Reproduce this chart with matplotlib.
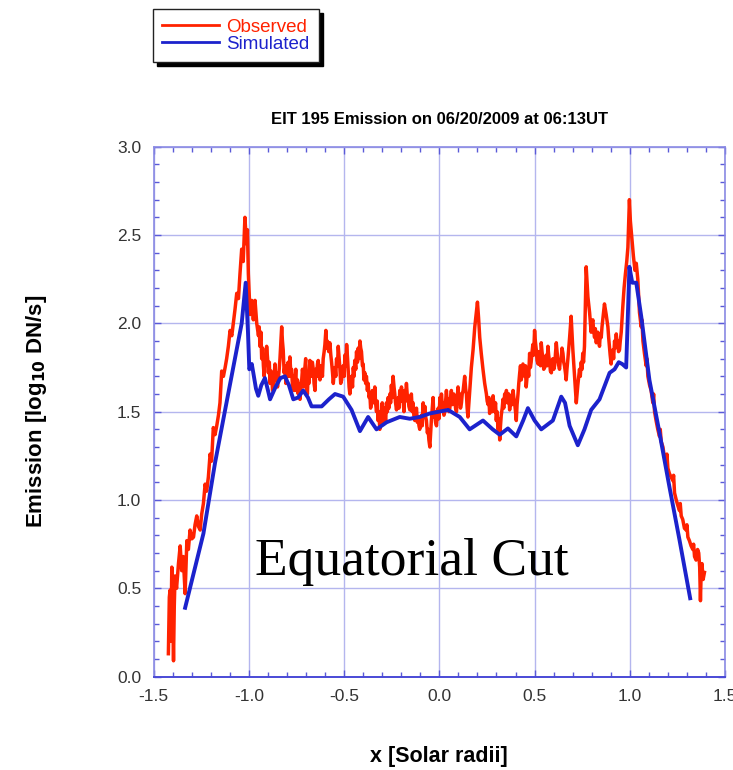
import numpy as np
import matplotlib
matplotlib.use('Agg')
from matplotlib import pyplot as plt
from matplotlib.ticker import MultipleLocator

# Observed EIT 195 profile along the equator (x in solar radii, log10 DN/s)
obs_x = [-1.423, -1.418, -1.414, -1.410, -1.405, -1.400, -1.396, -1.392, -1.388, -1.380,
         -1.370, -1.361, -1.353, -1.345, -1.335, -1.326, -1.318, -1.309, -1.300, -1.291,
         -1.283, -1.274, -1.265, -1.256, -1.248, -1.239, -1.230, -1.222, -1.213, -1.204,
         -1.196, -1.187, -1.178, -1.169, -1.160, -1.152, -1.143, -1.134, -1.125, -1.117,
         -1.108, -1.099, -1.090, -1.082, -1.073, -1.064, -1.055, -1.047, -1.038, -1.030,
         -1.021, -1.013, -1.008, -1.003, -0.994, -0.985, -0.977, -0.968, -0.959, -0.950,
         -0.946, -0.942, -0.937, -0.933, -0.928, -0.924, -0.920, -0.916, -0.911, -0.907,
         -0.902, -0.898, -0.893, -0.889, -0.884, -0.880, -0.876, -0.872, -0.867, -0.863,
         -0.859, -0.855, -0.850, -0.846, -0.841, -0.837, -0.832, -0.828, -0.824, -0.820,
         -0.815, -0.811, -0.806, -0.802, -0.798, -0.794, -0.789, -0.785, -0.780, -0.776,
         -0.771, -0.767, -0.763, -0.758, -0.754, -0.750, -0.745, -0.741, -0.737, -0.732,
         -0.728, -0.724, -0.719, -0.715, -0.711, -0.706, -0.702, -0.698, -0.693, -0.689,
         -0.685, -0.680, -0.676, -0.671, -0.667, -0.662, -0.658, -0.653, -0.649, -0.645,
         -0.640, -0.636, -0.632, -0.627, -0.623, -0.618, -0.614, -0.610, -0.605, -0.601,
         -0.598, -0.596, -0.592, -0.588, -0.581, -0.575, -0.570, -0.566, -0.561, -0.557,
         -0.552, -0.548, -0.544, -0.540, -0.535, -0.531, -0.526, -0.522, -0.518, -0.513,
         -0.509, -0.505, -0.500, -0.496, -0.491, -0.487, -0.482, -0.478, -0.474, -0.470,
         -0.465, -0.461, -0.456, -0.452, -0.448, -0.444, -0.439, -0.435, -0.430, -0.426,
         -0.422, -0.417, -0.413, -0.409, -0.404, -0.400, -0.396, -0.391, -0.387, -0.383,
         -0.378, -0.374, -0.369, -0.365, -0.361, -0.356, -0.352, -0.348, -0.343, -0.339,
         -0.335, -0.330, -0.326, -0.322, -0.317, -0.313, -0.308, -0.304, -0.300, -0.295,
         -0.291, -0.286, -0.282, -0.278, -0.273, -0.269, -0.265, -0.260, -0.256, -0.252,
         -0.247, -0.243, -0.238, -0.234, -0.230, -0.225, -0.221, -0.216, -0.212, -0.208,
         -0.203, -0.199, -0.195, -0.190, -0.186, -0.182, -0.177, -0.173, -0.169, -0.164,
         -0.160, -0.155, -0.151, -0.147, -0.142, -0.138, -0.134, -0.129, -0.125, -0.120,
         -0.116, -0.112, -0.107, -0.103, -0.099, -0.094, -0.090, -0.085, -0.081, -0.076,
         -0.072, -0.068, -0.063, -0.059, -0.055, -0.050, -0.046, -0.042, -0.037, -0.033,
         -0.029, -0.024, -0.020, -0.015, -0.011, -0.006, -0.002, 0.003, 0.007, 0.011,
         0.016, 0.020, 0.024, 0.029, 0.033, 0.037, 0.042, 0.046, 0.050, 0.055,
         0.059, 0.063, 0.068, 0.072, 0.076, 0.081, 0.085, 0.090, 0.094, 0.098,
         0.103, 0.107, 0.111, 0.116, 0.120, 0.125, 0.129, 0.133, 0.138, 0.142,
         0.146, 0.150, 0.155, 0.159, 0.164, 0.168, 0.177, 0.186, 0.194, 0.200,
         0.206, 0.212, 0.220, 0.229, 0.238, 0.247, 0.251, 0.256, 0.260, 0.264,
         0.268, 0.273, 0.277, 0.282, 0.286, 0.290, 0.295, 0.299, 0.303, 0.308,
         0.312, 0.317, 0.321, 0.325, 0.330, 0.334, 0.338, 0.343, 0.347, 0.352,
         0.356, 0.360, 0.365, 0.369, 0.373, 0.378, 0.382, 0.387, 0.391, 0.395,
         0.400, 0.404, 0.408, 0.413, 0.417, 0.422, 0.426, 0.430, 0.435, 0.439,
         0.443, 0.448, 0.452, 0.456, 0.461, 0.465, 0.469, 0.474, 0.478, 0.482,
         0.487, 0.491, 0.495, 0.500, 0.504, 0.509, 0.513, 0.518, 0.522, 0.526,
         0.531, 0.535, 0.539, 0.544, 0.548, 0.553, 0.557, 0.561, 0.566, 0.570,
         0.574, 0.579, 0.583, 0.588, 0.592, 0.596, 0.601, 0.605, 0.609, 0.614,
         0.618, 0.622, 0.627, 0.631, 0.635, 0.640, 0.644, 0.649, 0.653, 0.657,
         0.662, 0.666, 0.670, 0.675, 0.684, 0.692, 0.701, 0.710, 0.719, 0.727,
         0.736, 0.740, 0.745, 0.749, 0.753, 0.757, 0.762, 0.771, 0.780, 0.789,
         0.797, 0.801, 0.806, 0.810, 0.815, 0.819, 0.824, 0.828, 0.832, 0.837,
         0.841, 0.845, 0.850, 0.854, 0.858, 0.867, 0.876, 0.885, 0.889, 0.893,
         0.897, 0.902, 0.906, 0.911, 0.915, 0.920, 0.924, 0.929, 0.933, 0.937,
         0.941, 0.946, 0.950, 0.955, 0.963, 0.970, 0.977, 0.984, 0.990, 0.998,
         1.003, 1.007, 1.013, 1.019, 1.027, 1.034, 1.042, 1.051, 1.060, 1.064,
         1.069, 1.077, 1.086, 1.090, 1.095, 1.104, 1.112, 1.121, 1.125, 1.130,
         1.138, 1.147, 1.156, 1.160, 1.165, 1.174, 1.182, 1.191, 1.195, 1.200,
         1.208, 1.217, 1.226, 1.230, 1.235, 1.244, 1.252, 1.261, 1.265, 1.270,
         1.278, 1.287, 1.296, 1.300, 1.305, 1.313, 1.322, 1.331, 1.335, 1.340,
         1.348, 1.356, 1.362, 1.367, 1.371, 1.375, 1.379, 1.385, 1.392]
obs_y = [0.13, 0.45, 0.49, 0.20, 0.62, 0.35, 0.09, 0.40, 0.57, 0.50,
         0.64, 0.74, 0.60, 0.68, 0.47, 0.77, 0.72, 0.83, 0.78, 0.79,
         0.86, 0.91, 0.85, 0.83, 0.92, 0.98, 1.09, 1.05, 1.13, 1.26,
         1.22, 1.41, 1.37, 1.42, 1.48, 1.55, 1.73, 1.70, 1.75, 1.80,
         1.87, 1.96, 1.93, 2.00, 2.08, 2.17, 2.14, 2.28, 2.42, 2.35,
         2.60, 2.45, 2.53, 2.28, 2.05, 2.13, 2.02, 2.13, 2.00, 1.93,
         1.98, 1.87, 1.95, 1.80, 1.86, 1.76, 1.70, 1.82, 1.78, 1.87,
         1.80, 1.72, 1.78, 1.66, 1.73, 1.70, 1.62, 1.65, 1.72, 1.77,
         1.68, 1.72, 1.64, 1.68, 1.74, 1.80, 1.90, 1.98, 1.90, 1.85,
         1.72, 1.76, 1.66, 1.70, 1.76, 1.78, 1.70, 1.81, 1.72, 1.74,
         1.64, 1.70, 1.62, 1.68, 1.74, 1.62, 1.68, 1.60, 1.66, 1.57,
         1.62, 1.66, 1.74, 1.70, 1.64, 1.75, 1.80, 1.65, 1.60, 1.72,
         1.66, 1.79, 1.72, 1.70, 1.78, 1.74, 1.66, 1.62, 1.74, 1.70,
         1.77, 1.79, 1.72, 1.68, 1.76, 1.75, 1.70, 1.80, 1.84, 1.88,
         1.93, 1.96, 1.86, 1.90, 1.84, 1.89, 1.82, 1.78, 1.72, 1.66,
         1.72, 1.75, 1.70, 1.80, 1.76, 1.87, 1.80, 1.74, 1.66, 1.68,
         1.74, 1.76, 1.70, 1.82, 1.76, 1.88, 1.80, 1.72, 1.64, 1.60,
         1.66, 1.70, 1.64, 1.75, 1.70, 1.79, 1.74, 1.84, 1.78, 1.86,
         1.80, 1.90, 1.86, 1.84, 1.76, 1.77, 1.68, 1.72, 1.66, 1.70,
         1.62, 1.66, 1.58, 1.60, 1.52, 1.55, 1.62, 1.60, 1.55, 1.64,
         1.55, 1.50, 1.56, 1.45, 1.50, 1.40, 1.46, 1.50, 1.55, 1.44,
         1.52, 1.49, 1.44, 1.55, 1.50, 1.58, 1.52, 1.60, 1.55, 1.65,
         1.58, 1.70, 1.64, 1.60, 1.55, 1.51, 1.56, 1.58, 1.52, 1.62,
         1.56, 1.64, 1.58, 1.56, 1.50, 1.62, 1.56, 1.66, 1.60, 1.58,
         1.53, 1.51, 1.56, 1.60, 1.50, 1.55, 1.48, 1.45, 1.50, 1.52,
         1.44, 1.47, 1.42, 1.40, 1.44, 1.48, 1.42, 1.55, 1.48, 1.53,
         1.47, 1.45, 1.38, 1.40, 1.34, 1.30, 1.38, 1.45, 1.52, 1.58,
         1.47, 1.50, 1.44, 1.42, 1.48, 1.52, 1.46, 1.58, 1.52, 1.60,
         1.53, 1.55, 1.48, 1.50, 1.56, 1.62, 1.54, 1.57, 1.50, 1.52,
         1.58, 1.62, 1.54, 1.55, 1.60, 1.57, 1.52, 1.50, 1.58, 1.64,
         1.56, 1.60, 1.52, 1.55, 1.60, 1.62, 1.66, 1.70, 1.63, 1.60,
         1.52, 1.47, 1.55, 1.62, 1.70, 1.75, 1.85, 1.98, 2.06, 2.12,
         2.03, 1.92, 1.83, 1.74, 1.66, 1.60, 1.56, 1.54, 1.58, 1.49,
         1.55, 1.55, 1.50, 1.59, 1.54, 1.50, 1.55, 1.45, 1.50, 1.40,
         1.46, 1.34, 1.42, 1.48, 1.52, 1.57, 1.52, 1.60, 1.55, 1.62,
         1.58, 1.55, 1.60, 1.51, 1.56, 1.58, 1.54, 1.62, 1.58, 1.55,
         1.50, 1.45, 1.54, 1.60, 1.66, 1.72, 1.76, 1.68, 1.72, 1.77,
         1.73, 1.70, 1.76, 1.64, 1.70, 1.75, 1.70, 1.83, 1.75, 1.78,
         1.84, 1.88, 1.82, 1.96, 1.90, 1.85, 1.79, 1.77, 1.84, 1.82,
         1.76, 1.89, 1.84, 1.80, 1.74, 1.75, 1.80, 1.82, 1.76, 1.87,
         1.82, 1.78, 1.73, 1.72, 1.77, 1.80, 1.74, 1.76, 1.82, 1.89,
         1.84, 1.80, 1.76, 1.74, 1.79, 1.80, 1.86, 1.83, 1.78, 1.76,
         1.72, 1.68, 1.74, 1.80, 1.92, 2.04, 1.85, 1.70, 1.55, 1.65,
         1.74, 1.70, 1.78, 1.74, 1.83, 1.78, 1.87, 2.32, 2.15, 2.06,
         1.95, 2.00, 2.02, 1.96, 1.92, 1.97, 1.89, 1.93, 1.95, 1.90,
         1.87, 1.94, 1.92, 1.98, 2.02, 2.11, 2.05, 1.98, 1.92, 1.87,
         1.82, 1.77, 1.83, 1.85, 1.80, 1.90, 1.86, 1.94, 1.88, 1.90,
         1.84, 1.85, 1.90, 1.95, 2.09, 2.20, 2.28, 2.35, 2.43, 2.70,
         2.58, 2.53, 2.45, 2.38, 2.30, 2.34, 2.25, 2.06, 1.98, 2.02,
         1.90, 1.83, 1.76, 1.80, 1.70, 1.65, 1.62, 1.55, 1.60, 1.50,
         1.45, 1.40, 1.36, 1.40, 1.33, 1.30, 1.24, 1.23, 1.26, 1.18,
         1.15, 1.13, 1.11, 1.14, 1.04, 1.00, 0.97, 0.94, 0.98, 0.91,
         0.89, 0.84, 0.83, 0.86, 0.79, 0.77, 0.74, 0.72, 0.75, 0.68,
         0.66, 0.72, 0.70, 0.62, 0.43, 0.60, 0.64, 0.55, 0.59]

# Simulated profile
sim_x = [-1.335, -1.239, -1.178, -1.125, -1.038, -1.017, -1.005, -0.998, -0.985, -0.977,
         -0.963, -0.951, -0.935, -0.916, -0.900, -0.889, -0.860, -0.835, -0.811, -0.790,
         -0.767, -0.742, -0.715, -0.690, -0.671, -0.618, -0.580, -0.548, -0.505, -0.461,
         -0.417, -0.374, -0.330, -0.277, -0.208, -0.155, -0.103, -0.050, 0.046, 0.107,
         0.159, 0.229, 0.280, 0.317, 0.360, 0.404, 0.440, 0.465, 0.500, 0.535,
         0.596, 0.640, 0.660, 0.684, 0.727, 0.762, 0.797, 0.841, 0.894, 0.920,
         0.942, 0.960, 0.981, 0.998, 1.013, 1.034, 1.060, 1.103, 1.156, 1.208,
         1.261, 1.317]
sim_y = [0.39, 0.81, 1.21, 1.51, 2.00, 2.23, 1.95, 1.74, 1.77, 1.72,
         1.63, 1.59, 1.65, 1.69, 1.62, 1.57, 1.64, 1.69, 1.70, 1.65,
         1.57, 1.58, 1.62, 1.58, 1.53, 1.53, 1.57, 1.60, 1.585, 1.51,
         1.39, 1.47, 1.40, 1.44, 1.47, 1.46, 1.47, 1.49, 1.51, 1.47,
         1.40, 1.45, 1.40, 1.37, 1.405, 1.36, 1.45, 1.52, 1.45, 1.40,
         1.45, 1.585, 1.55, 1.42, 1.31, 1.40, 1.51, 1.57, 1.72, 1.74,
         1.78, 1.77, 1.75, 2.32, 2.23, 2.23, 2.04, 1.68, 1.38, 1.075,
         0.774, 0.444]

x_ticks = [-1.5, -1.0, -0.5, 0.0, 0.5, 1.0, 1.5]
y_ticks = [0.0, 0.5, 1.0, 1.5, 2.0, 2.5, 3.0]

sans = ['Liberation Sans', 'DejaVu Sans']
grid_col = '#b4b6ee'
spine_col = '#8a8ae4'

fig = plt.figure(figsize=(7.33, 7.70), dpi=100)
ax = fig.add_axes([0.2097, 0.1212, 0.7794, 0.6883])

l_obs, = ax.plot(obs_x, obs_y, color='#ff2200', lw=2.5, zorder=3, label='Observed')
l_sim, = ax.plot(sim_x, sim_y, color='#1c22cc', lw=2.8, zorder=4, label='Simulated',
                 solid_joinstyle='round')

ax.set_xlim(-1.5, 1.5)
ax.set_ylim(0.0, 3.0)
ax.set_xticks(x_ticks)
ax.set_yticks(y_ticks)
ax.set_xticklabels(['%.1f' % v for v in x_ticks])
ax.set_yticklabels(['%.1f' % v for v in y_ticks])
ax.xaxis.set_minor_locator(MultipleLocator(0.1))
ax.yaxis.set_minor_locator(MultipleLocator(0.1))
ax.grid(True, which='major', color=grid_col, lw=1.0, zorder=1)

ax.tick_params(which='both', direction='in', top=True, right=True, color='#5a5ad8')
ax.tick_params(which='major', length=5, width=1.0, labelsize=12.5, labelcolor='#333333', pad=9)
ax.tick_params(which='minor', length=3.5, width=1.0)
for lab in ax.get_xticklabels() + ax.get_yticklabels():
    lab.set_family(sans)

for side in ['left', 'top', 'right']:
    ax.spines[side].set_color(spine_col)
    ax.spines[side].set_linewidth(1.2)
ax.spines['bottom'].set_color('#4a4ad6')
ax.spines['bottom'].set_linewidth(1.4)

ax.set_title('EIT 195 Emission on 06/20/2009 at 06:13UT', family=sans,
             fontsize=12, fontweight='bold', pad=16)
ax.set_xlabel('x [Solar radii]', family=sans, fontsize=15.5, fontweight='bold', labelpad=30)
ax.set_ylabel(r'Emission [log$_{\mathbf{10}}$ DN/s]', family=sans, fontsize=16,
              fontweight='bold', labelpad=49)

ax.text(-0.968, 0.576, 'Equatorial Cut', family=['Liberation Serif', 'DejaVu Serif'],
        fontsize=38.5, color='black', zorder=5)

leg = fig.legend(handles=[l_obs, l_sim], loc='upper left',
                 bbox_to_anchor=(153 / 733, 1 - 9 / 770), frameon=True, fancybox=False,
                 edgecolor='#222222', framealpha=1,
                 shadow={'ox': 3, 'oy': -3, 'facecolor': 'black', 'edgecolor': 'black', 'alpha': 1},
                 labelcolor='linecolor', prop={'family': sans, 'size': 13.5},
                 handlelength=3.0, handletextpad=0.4, borderpad=0.5, labelspacing=0.0,
                 borderaxespad=0)
leg.get_frame().set_linewidth(1.0)
for h in leg.legend_handles:
    h.set_linewidth(2.0)

fig.savefig('out.png', dpi=100)
